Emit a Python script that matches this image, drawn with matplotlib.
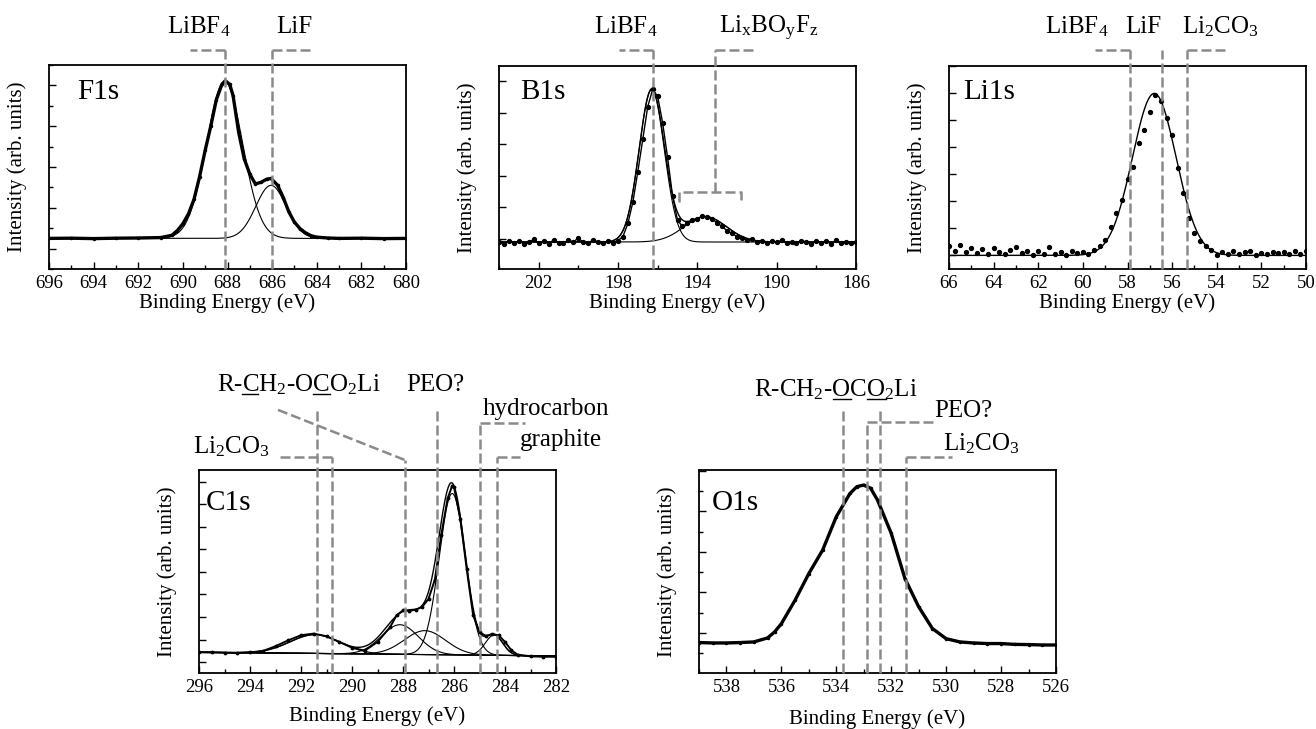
import numpy as np
import matplotlib
matplotlib.use("Agg")
import matplotlib.pyplot as plt
from matplotlib.lines import Line2D
from matplotlib.ticker import MultipleLocator

plt.rcParams["font.family"] = ["Liberation Serif", "DejaVu Serif"]
plt.rcParams["mathtext.fontset"] = "custom"
plt.rcParams["mathtext.rm"] = "Liberation Serif"
plt.rcParams["mathtext.it"] = "Liberation Serif:italic"
plt.rcParams["mathtext.bf"] = "Liberation Serif:bold"

# ---- measured spectra (binding energy in eV, intensity in arb. units) ----
f1s_be = [696, 695, 694, 693, 692, 691, 690.5, 690.25, 690, 689.75, 689.5, 689.25, 689,
          688.75, 688.5, 688.25, 688.1, 687.9, 687.75, 687.5, 687.25, 687, 686.75, 686.5,
          686.25, 686.05, 685.75, 685.5, 685.25, 685, 684.75, 684.5, 684.25, 684, 683.5,
          683, 682, 681, 680]
f1s_cts = [15.0, 15.1, 14.9, 15.1, 15.2, 15.4, 16.5, 18.8, 22.2, 27.0, 34.2, 45.3, 58.2,
           70.0, 83.0, 90.5, 92.3, 90.5, 85.0, 67.0, 54.0, 46.5, 41.7, 42.5,
           44.0, 44.4, 41.0, 35.0, 28.0, 23.0, 19.8, 17.7, 16.3, 15.6, 15.2,
           15.0, 15.1, 14.9, 15.0]

b1s_be = np.linspace(204, 186, 73)
b1s_cts = [13.5, 12.2, 14.0, 12.8, 13.9, 12.5, 13.2, 14.6,
           12.9, 13.6, 12.4, 14.3, 13.0, 12.6, 14.1, 13.4,
           15.2, 13.1, 12.7, 14.4, 13.3, 12.8, 13.9, 13.0,
           14.0, 16.0, 22.5, 33.0, 48.0, 64.0, 80.0, 88.5,
           85.0, 72.0, 55.0, 36.0, 24.0, 21.0, 22.5, 24.0,
           24.5, 26.0, 25.5, 24.8, 22.5, 21.0, 18.8, 17.5,
           16.0, 15.5, 14.2, 14.6, 13.4, 14.0, 12.8, 13.6,
           13.1, 14.2, 12.6, 13.5, 12.9, 14.0, 13.2, 12.5,
           13.8, 12.9, 13.6, 12.4, 14.1, 13.0, 13.5, 12.7,
           13.4]

li1s_be = np.linspace(66, 50, 65)
li1s_cts = [11.5, 9.0, 11.8, 8.2, 10.5, 8.0, 9.8, 7.5,
            10.2, 8.5, 7.2, 9.6, 11.0, 7.8, 8.8, 7.0,
            9.0, 7.6, 10.6, 7.4, 8.3, 7.1, 9.0, 7.8,
            8.5, 7.3, 9.5, 11.2, 14.2, 20.5, 27.8, 34.0,
            44.5, 50.2, 62.0, 68.5, 77.5, 85.5, 83.0, 74.5,
            66.0, 50.0, 37.5, 25.0, 17.5, 14.0, 11.5, 9.2,
            7.0, 8.4, 7.6, 8.8, 7.2, 8.5, 9.0, 7.1,
            8.0, 7.5, 8.6, 7.8, 8.2, 7.3, 8.9, 7.6,
            9.0]

c1s_be = [296, 295.5, 295, 294.5, 294, 293.5, 293, 292.5, 292, 291.5, 291, 290.5, 290,
          289.5, 289, 288.5, 288.25, 288, 287.75, 287.5, 287.25, 287, 286.75, 286.5,
          286.25, 286.07, 286, 285.75, 285.5, 285.25, 285, 284.75, 284.5, 284.25, 284,
          283.75, 283.5, 283, 282.5, 282]
c1s_cts = [10.2, 10.1, 10.0, 9.9, 10.2, 10.8, 13.2, 16.1, 18.6, 19.4, 18.1, 15.3, 12.5,
           11.0, 15.3, 22.7, 28.5, 30.8, 30.6, 31.2, 32.5, 36.5, 46.0, 68.0,
           86.0, 92.3, 91.5, 76.0, 51.0, 28.5, 20.0, 18.3, 19.0, 18.6, 15.3,
           11.2, 9.0, 8.2, 8.0, 8.0]

o1s_be = [539, 538.5, 538, 537.5, 537, 536.5, 536.25, 536, 535.5, 535, 534.5, 534, 533.5,
          533.25, 533, 532.75, 532.5, 532, 531.5, 531, 530.5, 530, 529.5, 529, 528.5,
          528, 527.5, 527, 526.5, 526]
o1s_cts = [15.0, 14.8, 14.8, 15.0, 15.3, 17.3, 20.2, 24.3, 35.9, 49.0, 60.5, 77.0, 88.5,
           91.8, 92.6, 91.0, 85.2, 68.8, 46.5, 32.6, 21.9, 16.9, 15.3, 14.8, 14.5,
           14.5, 14.1, 14.0, 13.8, 13.8]

# ---- fitted components: centre (eV), height, FWHM (eV); backgrounds (left, right) ----
f1s_centers, f1s_heights, f1s_fwhm = [688.13, 686.05], [77.0, 26.0], [1.9, 1.6]
f1s_bg = (15.0, 15.0)
b1s_centers, b1s_heights, b1s_fwhm = [196.3, 193.6], [75.0, 12.5], [1.5, 2.5]
b1s_bg = (13.3, 13.3)
li1s_centers, li1s_heights, li1s_fwhm = [56.8], [79.8], [2.3]
li1s_bg = (6.7, 6.7)
c1s_centers = [291.45, 288.12, 287.14, 286.07, 284.43]
c1s_heights = [9.3, 14.6, 11.8, 79.5, 10.0]
c1s_fwhm = [2.3, 1.7, 1.9, 1.2, 0.8]
c1s_bg = (10.2, 8.4)

for be, cts in [(f1s_be, f1s_cts), (b1s_be, b1s_cts), (li1s_be, li1s_cts),
                (c1s_be, c1s_cts), (o1s_be, o1s_cts)]:
    assert len(be) == len(cts)

DASH = dict(color="#8a8a8a", lw=1.8, linestyle=(0, (4, 1.6)), zorder=4, clip_on=False)
W, H = 1316, 729
LABEL_SIZE = 18


def make_axes(fig, left, top, width=357, height=203):
    return fig.add_axes([left / W, 1 - (top + height) / H, width / W, height / H])


def style(ax, xlim, xmaj, xmaj_off, xmin, ymaj, ymaj_off, ymin=None, ymin_off=0.0,
          xlabelpad=1.0):
    ax.set_xlim(*xlim)
    ax.set_ylim(0, 100)
    ax.xaxis.set_major_locator(MultipleLocator(xmaj, offset=xmaj_off))
    ax.xaxis.set_minor_locator(MultipleLocator(xmin))
    ax.yaxis.set_major_locator(MultipleLocator(ymaj, offset=ymaj_off))
    if ymin:
        ax.yaxis.set_minor_locator(MultipleLocator(ymin, offset=ymin_off))
    ax.set_yticklabels([])
    ax.tick_params(which="both", direction="in", top=False, right=False, width=1.0,
                   labelsize=13.5, pad=4)
    ax.tick_params(which="major", length=5)
    ax.tick_params(which="minor", length=3)
    for s in ax.spines.values():
        s.set_linewidth(1.3)
    ax.set_xlabel("Binding Energy (eV)", fontsize=15, labelpad=xlabelpad)
    ax.set_ylabel("Intensity (arb. units)", fontsize=15, labelpad=12)


def components(xlim, centers, heights, fwhms, bg):
    x = np.linspace(xlim[0], xlim[1], 600)
    base = np.interp(x, [min(xlim), max(xlim)], [bg[1], bg[0]])
    comps = []
    for c, h, w in zip(centers, heights, fwhms):
        s = w / 2.3548
        comps.append(base + h * np.exp(-(x - c) ** 2 / (2 * s * s)))
    total = base + sum(cp - base for cp in comps)
    return x, base, comps, total


def marker(ax, x, top, x_end=None):
    tr = ax.get_xaxis_transform()
    ax.plot([x, x], [0, top], transform=tr, **DASH)
    if x_end is not None:
        ax.plot([x, x_end], [top, top], transform=tr, **DASH)


def label(ax, x, y, text, ha="center", size=LABEL_SIZE):
    return ax.text(x, y, text, transform=ax.get_xaxis_transform(), ha=ha,
                   va="baseline", fontsize=size)


def text_width(fig, s, size):
    r = fig.canvas.get_renderer()
    t = fig.text(0, 0, s, fontsize=size)
    w = t.get_window_extent(r).width
    t.remove()
    return w


def underline(fig, ax, txt, x, y, pieces, size=LABEL_SIZE):
    # pieces: list of (prefix, prefix + underlined char)
    r = fig.canvas.get_renderer()
    x0 = txt.get_window_extent(r).x0
    yb = ax.get_xaxis_transform().transform((x, y))[1] - 2.5
    for pre, upto in pieces:
        a = x0 + text_width(fig, pre, size)
        b = x0 + text_width(fig, upto, size)
        fig.add_artist(Line2D([a / W, b / W], [yb / H, yb / H], color="black", lw=1.0,
                              transform=fig.transFigure))


fig = plt.figure(figsize=(W / 100, H / 100), dpi=100)

# ---------------- F1s ----------------
ax = make_axes(fig, 49, 65, height=204)
xlim = (696, 680)
style(ax, xlim, 2, 0, 1, 20, 10, 10, 0)
x, base, comps, total = components(xlim, f1s_centers, f1s_heights, f1s_fwhm, f1s_bg)
for cp in comps:
    ax.plot(x, cp, color="black", lw=0.8)
ax.plot(f1s_be, f1s_cts, color="black", lw=2.4, marker=".", ms=3)
ax.text(0.08, 0.87, "F1s", transform=ax.transAxes, fontsize=21, va="center")
marker(ax, 688.1, 1.073, 689.7)
marker(ax, 686.0, 1.073, 684.2)
label(ax, 689.3, 1.155, r"LiBF$_{4}$")
label(ax, 685.0, 1.155, "LiF")

# ---------------- B1s ----------------
ax = make_axes(fig, 499, 66)
xlim = (204, 186)
style(ax, xlim, 4, 2, 2, 15.5, 15)
x, base, comps, total = components(xlim, b1s_centers, b1s_heights, b1s_fwhm, b1s_bg)
for cp in comps:
    ax.plot(x, cp, color="black", lw=0.8)
ax.plot(x, total, color="black", lw=1.0)
ax.plot(b1s_be, b1s_cts, color="black", lw=1.0, marker="o", ms=2.8)
ax.text(0.059, 0.87, "B1s", transform=ax.transAxes, fontsize=21, va="center")
marker(ax, 196.25, 1.079, 197.97)
tr = ax.get_xaxis_transform()
ax.plot([193.13, 193.13], [0.38, 1.079], transform=tr, **DASH)
ax.plot([193.13, 191.17], [1.079, 1.079], transform=tr, **DASH)
ax.plot([194.92, 194.92, 191.78, 191.78], [0.33, 0.38, 0.38, 0.33], transform=tr, **DASH)
label(ax, 197.6, 1.161, r"LiBF$_{4}$")
label(ax, 190.42, 1.161, r"Li$_{\mathrm{x}}$BO$_{\mathrm{y}}$F$_{\mathrm{z}}$")

# ---------------- Li1s ----------------
ax = make_axes(fig, 949, 66)
xlim = (66, 50)
style(ax, xlim, 2, 0, 1, 13.3, 6.7)
x, base, comps, total = components(xlim, li1s_centers, li1s_heights, li1s_fwhm, li1s_bg)
ax.plot(x, total, color="black", lw=1.0)
ax.plot(li1s_be, li1s_cts, ls="none", color="black", marker="o", ms=2.8)
ax.text(0.04, 0.87, "Li1s", transform=ax.transAxes, fontsize=21, va="center")
marker(ax, 57.9, 1.079, 59.47)
marker(ax, 56.45, 1.079)
marker(ax, 55.34, 1.079, 53.5)
label(ax, 60.26, 1.161, r"LiBF$_{4}$")
label(ax, 57.28, 1.161, "LiF")
label(ax, 53.83, 1.161, r"Li$_{2}$CO$_{3}$")

# ---------------- C1s ----------------
ax = make_axes(fig, 199, 470)
xlim = (296, 282)
style(ax, xlim, 2, 0, 1, 11.1, 5.4, xlabelpad=8)
x, base, comps, total = components(xlim, c1s_centers, c1s_heights, c1s_fwhm, c1s_bg)
ax.plot(x, base, color="black", lw=0.8)
for cp in comps:
    ax.plot(x, cp, color="black", lw=0.8)
ax.plot(x, total, color="black", lw=1.0)
ax.plot(c1s_be, c1s_cts, color="black", lw=1.4, marker=".", ms=3.5)
ax.text(0.02, 0.835, "C1s", transform=ax.transAxes, fontsize=21, va="center")
tr = ax.get_xaxis_transform()
marker(ax, 291.39, 1.304)
marker(ax, 290.78, 1.066, 292.89)
ax.plot([292.9, 287.92], [1.296, 1.049], transform=tr, **DASH)
marker(ax, 287.92, 1.049)
marker(ax, 286.65, 1.296)
marker(ax, 285.0, 1.23, 283.2)
marker(ax, 284.33, 1.066, 283.4)
t = label(ax, 292.1, 1.387, "R-CH$_{2}$-OCO$_{2}$Li")
underline(fig, ax, t, 292.1, 1.387, [("R-", "R-C"), ("R-CH$_{2}$-O", "R-CH$_{2}$-OC")])
label(ax, 286.75, 1.387, "PEO?")
label(ax, 284.89, 1.271, "hydrocarbon", ha="left")
label(ax, 283.41, 1.118, "graphite", ha="left")
label(ax, 296.22, 1.082, r"Li$_{2}$CO$_{3}$", ha="left")

# ---------------- O1s ----------------
ax = make_axes(fig, 699, 470)
xlim = (539, 526)
style(ax, xlim, 2, 0, 1, 20, 19.7, 10, 9.7, xlabelpad=10)
ax.plot(o1s_be, o1s_cts, color="black", lw=2.4, marker=".", ms=3)
ax.text(0.035, 0.835, "O1s", transform=ax.transAxes, fontsize=21, va="center")
marker(ax, 533.75, 1.296)
marker(ax, 532.87, 1.234, 530.48)
marker(ax, 532.4, 1.296)
marker(ax, 531.48, 1.066, 529.78)
t = label(ax, 534.0, 1.362, "R-CH$_{2}$-OCO$_{2}$Li")
underline(fig, ax, t, 534.0, 1.362,
          [("R-CH$_{2}$-", "R-CH$_{2}$-O"), ("R-CH$_{2}$-OC", "R-CH$_{2}$-OCO")])
label(ax, 530.44, 1.263, "PEO?", ha="left")
label(ax, 530.12, 1.099, r"Li$_{2}$CO$_{3}$", ha="left")

fig.savefig("out.png", dpi=100)
